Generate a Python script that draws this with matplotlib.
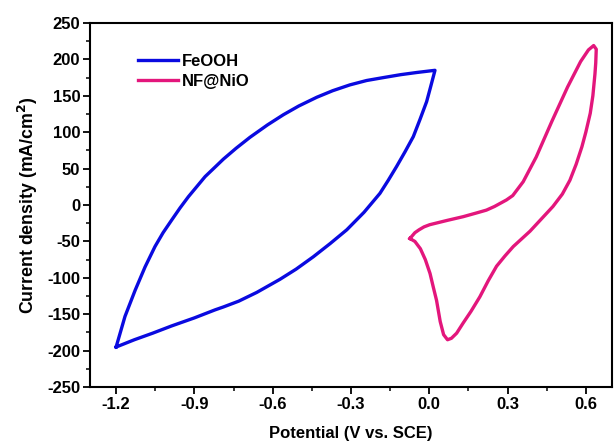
import matplotlib.pyplot as plt
from matplotlib.ticker import MultipleLocator

plt.rcParams['font.family'] = ['Liberation Sans', 'DejaVu Sans']
plt.rcParams['font.weight'] = 'bold'

# FeOOH loop: upper branch left->right, then lower branch back
feooh_v = [-1.2, -1.166, -1.127, -1.089, -1.051, -1.02, -0.987, -0.955, -0.923, -0.859,
           -0.821, -0.789, -0.74, -0.687, -0.62, -0.559, -0.5, -0.431, -0.37, -0.304,
           -0.24, -0.176, -0.11, -0.048, 0.022,
           0.005, -0.01, -0.035, -0.061, -0.093, -0.125, -0.157, -0.189, -0.25, -0.316,
           -0.38, -0.444, -0.51, -0.572, -0.661, -0.73, -0.789, -0.821, -0.9, -0.987,
           -1.06, -1.13, -1.2]
feooh_j = [-195, -153, -117, -85, -57, -38, -20.6, -4, 11.4, 39,
           52, 63, 78, 93, 110, 124, 136, 148, 157, 165,
           171, 175, 179, 182, 185,
           162, 142, 118, 94, 73, 53, 34, 16, -10, -34,
           -53, -71, -88, -102, -120, -132, -140, -144, -155, -166,
           -176, -185, -195]

# NF@NiO loop
nio_v = [-0.074, -0.055, -0.039, -0.02, 0.002, 0.07, 0.13, 0.18, 0.219, 0.25,
         0.296, 0.32, 0.36, 0.41, 0.47, 0.53, 0.58, 0.61, 0.63, 0.64,
         0.638, 0.635, 0.627, 0.617, 0.60, 0.585, 0.563, 0.539, 0.51, 0.474,
         0.43, 0.386, 0.322, 0.29, 0.258, 0.226, 0.194, 0.16, 0.13, 0.105,
         0.085, 0.07, 0.055, 0.042, 0.028, 0.015, 0.003, -0.015, -0.034, -0.055,
         -0.074]
nio_j = [-46, -38, -34, -30, -27, -21, -16, -11, -7, -2,
         7, 13, 32, 66, 115, 162, 197, 213, 219, 214,
         195, 180, 150, 126, 100, 80, 56, 34, 15, -2,
         -19, -36, -57, -70, -84, -104, -126, -146, -162, -176,
         -183, -185, -178, -160, -131, -112, -94, -75, -60, -50,
         -46]

fig = plt.figure(figsize=(6.14, 4.48), dpi=100)
ax = fig.add_axes([0.1466, 0.136, 0.85, 0.8127])

ax.plot(feooh_v, feooh_j, color='#0a0ae0', lw=2.4, label='FeOOH', solid_joinstyle='round')
ax.plot(nio_v, nio_j, color='#e3167c', lw=2.4, label='NF@NiO', solid_joinstyle='round')

ax.set_xlim(-1.3, 0.7)
ax.set_ylim(-250, 250)
ax.xaxis.set_minor_locator(MultipleLocator(0.15))
ax.yaxis.set_minor_locator(MultipleLocator(25))
ax.set_xticks([-1.2, -0.9, -0.6, -0.3, 0.0, 0.3, 0.6])
ax.set_xticklabels(['-1.2', '-0.9', '-0.6', '-0.3', '0.0', '0.3', '0.6'])
ax.set_yticks(range(-250, 251, 50))
ax.set_yticklabels([str(v) for v in range(-250, 251, 50)])
ax.tick_params(which='major', direction='out', length=5, width=1.3, labelsize=12, pad=2)
ax.tick_params(which='minor', direction='out', length=3, width=1.1)
for s in ax.spines.values():
    s.set_linewidth(1.5)

ax.set_xlabel('Potential (V vs. SCE)', fontsize=12, fontweight='bold', labelpad=10)
ax.set_ylabel('Current density (mA/cm$^\\mathbf{2}$)', fontsize=12.8, fontweight='bold', labelpad=5)

ax.legend(loc='upper left', bbox_to_anchor=(0.079, 0.933), frameon=False, fontsize=12,
          handlelength=2.4, handletextpad=0.25, labelspacing=0.3, borderaxespad=0)

fig.savefig('out.png', dpi=100)
